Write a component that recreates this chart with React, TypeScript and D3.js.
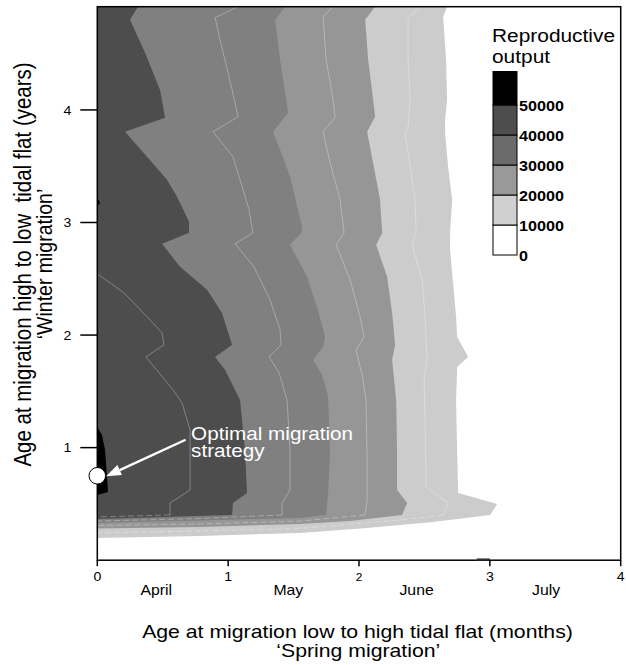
import React from 'react';
import * as d3 from 'd3';

type Pt = [number, number];

// ---------- axis content ----------
const X_TICKS = [0, 1, 2, 3, 4];
const Y_TICKS = [1, 2, 3, 4];
const MONTHS = ['April', 'May', 'June', 'July'];
const MONTH_POS = [0.45, 1.46, 2.44, 3.43];
const X_MAX = 4;
const Y_MAX = 4.917;

// ---------- legend ----------
const LEGEND_TICKS = [0, 10000, 20000, 30000, 40000, 50000];
const LEGEND_COLORS = ['#ffffff', '#d0d0d0', '#999999', '#6b6b6b', '#4d4d4d', '#000000'];

// ---------- filled contour regions (value >= level), boundary ----------
// x: months (spring migration), y: years (winter migration)
const FILL_LEVELS = [10000, 20000, 30000, 40000];
const FILL_COLORS = ['#cccccc', '#969696', '#808080', '#4d4d4d'];

const edge10k: Pt[] = [
  [2.673, 4.917], [2.643, 4.828], [2.666, 4.446], [2.673, 4.091], [2.658, 3.913], [2.658, 3.797],
  [2.681, 3.495], [2.712, 3.202], [2.696, 2.908], [2.696, 2.757], [2.719, 2.464], [2.742, 2.162],
  [2.75, 1.984], [2.834, 1.806], [2.75, 1.717], [2.742, 1.424], [2.75, 0.953], [2.758, 0.597],
  [3.056, 0.5], [3.002, 0.402],
  [2.566, 0.34], [2.062, 0.286], [1.55, 0.242], [0.785, 0.215], [0, 0.197],
];
const edge20k: Pt[] = [
  [2.123, 4.917], [2.047, 4.802], [2.07, 4.446], [2.108, 4.091], [2.123, 3.94], [2.062, 3.806],
  [2.1, 3.575], [2.161, 3.202], [2.177, 2.908], [2.131, 2.802], [2.215, 2.517], [2.253, 2.197],
  [2.276, 1.913], [2.253, 1.78], [2.284, 1.424], [2.291, 0.953], [2.291, 0.624], [2.368, 0.508],
  [2.329, 0.402],
  [1.932, 0.348], [1.55, 0.322], [0.785, 0.295], [0, 0.282],
];
const edge30k: Pt[] = [
  [1.435, 4.917], [1.359, 4.802], [1.397, 4.446], [1.458, 3.975], [1.343, 3.806], [1.412, 3.602],
  [1.473, 3.406], [1.565, 2.962], [1.565, 2.917], [1.473, 2.802], [1.603, 2.517], [1.679, 2.251],
  [1.741, 1.984], [1.725, 1.895], [1.649, 1.78], [1.718, 1.646], [1.764, 1.451], [1.779, 0.953],
  [1.764, 0.597], [1.749, 0.402],
  [1.55, 0.375], [0.785, 0.353], [0, 0.331],
];
const edge40k: Pt[] = [
  [0.311, 4.917], [0.25, 4.802], [0.365, 4.508], [0.479, 4.18], [0.518, 3.931], [0.212, 3.806],
  [0.38, 3.584], [0.533, 3.38], [0.609, 3.228], [0.701, 3.006], [0.701, 2.908], [0.495, 2.811],
  [0.632, 2.606], [0.839, 2.402], [0.953, 2.197], [1.03, 1.913], [0.9, 1.806], [0.976, 1.691],
  [1.091, 1.424], [1.129, 0.98], [1.144, 0.597], [1.037, 0.508], [1.03, 0.402],
  [0.518, 0.384], [0, 0.366],
];
const edge50k: Pt[] = [
  [0, 1.184], [0.036, 1.113], [0.059, 0.98], [0.074, 0.74], [0.082, 0.606], [0, 0.58],
];
const speck50k: Pt[] = [[0, 3.22], [0.022, 3.175], [0, 3.14]];
const speckAxis: Pt[] = [[2.9, 0.006], [3.0, 0.006]];

// ---------- intermediate contour lines ----------
const line15k: Pt[] = [
  [2.467, 4.917], [2.375, 4.82], [2.375, 4.446], [2.391, 4.091], [2.375, 3.85], [2.352, 3.797],
  [2.391, 3.495], [2.429, 3.202], [2.437, 2.908], [2.406, 2.802], [2.482, 2.491], [2.505, 2.162],
  [2.52, 1.78], [2.497, 1.602], [2.505, 1.246], [2.513, 0.651], [2.681, 0.508], [2.643, 0.402],
  [2.314, 0.357], [1.55, 0.282], [0.785, 0.26], [0, 0.242],
];
const line25k: Pt[] = [
  [1.802, 4.917], [1.725, 4.828], [1.749, 4.446], [1.802, 4.091], [1.817, 3.931], [1.725, 3.806],
  [1.779, 3.531], [1.856, 3.202], [1.886, 2.908], [1.825, 2.802], [1.932, 2.491], [2.008, 2.162],
  [2.039, 1.984], [1.978, 1.868], [2.024, 1.646], [2.054, 1.424], [2.062, 0.891], [2.062, 0.535],
  [2.047, 0.402],
  [1.55, 0.348], [0.785, 0.322], [0, 0.308],
];
const line35k: Pt[] = [
  [1.076, 4.917], [0.9, 4.82], [0.938, 4.624], [1.03, 4.18], [1.076, 3.94], [0.885, 3.806],
  [1.037, 3.584], [1.091, 3.38], [1.16, 3.113], [1.19, 2.908], [1.053, 2.811], [1.198, 2.606],
  [1.32, 2.313], [1.397, 2.046], [1.404, 1.913], [1.313, 1.806], [1.389, 1.664], [1.45, 1.424],
  [1.473, 0.98], [1.473, 0.624], [1.412, 0.508], [1.412, 0.402],
  [0.785, 0.37], [0, 0.348],
];
const line45k: Pt[] = [
  [0, 2.544], [0.204, 2.375], [0.38, 2.162], [0.495, 2.02], [0.51, 1.913], [0.372, 1.806],
  [0.472, 1.664], [0.579, 1.513], [0.648, 1.397], [0.709, 1.157], [0.709, 0.624], [0.556, 0.508],
  [0.556, 0.402],
  [0, 0.384],
];

// ---------- annotation ----------
const OPTIMUM: Pt = [0, 0.75];
const ARROW_TAIL: Pt = [0.675, 1.07];
const ARROW_TIP: Pt = [0.067, 0.745];
const NOTE_LINES = ['Optimal migration', 'strategy'];
const NOTE_POS: Pt = [0.717, 1.065];

const W = 626;
const H = 665;
const SX = 1.13;
const FONT = "'Liberation Sans', Arial, Helvetica, sans-serif";

const x = d3.scaleLinear().domain([0, X_MAX]).range([97.3, 620.7]);
const y = d3.scaleLinear().domain([0, Y_MAX]).range([560.2, 6.7]);
const legendY = d3.scaleLinear().domain([0, 50000]).range([255, 105]);

const line = d3.line<Pt>().x((d) => x(d[0])).y((d) => y(d[1]));

function T(props: {
  x: number; y: number; size: number; anchor?: string; rotate?: number; bold?: boolean;
  fill?: string; children: React.ReactNode;
}) {
  const { x: tx, y: ty, size, anchor = 'start', rotate, bold, fill = '#000', children } = props;
  return (
    <text
      transform={`translate(${tx},${ty}) scale(${SX},1)${rotate ? ` rotate(${rotate})` : ''}`}
      fontSize={size}
      textAnchor={anchor}
      fontWeight={bold ? 'bold' : 'normal'}
      fill={fill}
      fontFamily={FONT}
      style={{ whiteSpace: 'pre' }}
    >
      {children}
    </text>
  );
}

function splitAtCorner(pts: Pt[]): [Pt[], Pt[]] {
  const i = pts.findIndex((p) => p[1] <= 0.41);
  return [pts.slice(0, i + 1), pts.slice(i)];
}

export default function App() {
  const edges = [edge10k, edge20k, edge30k, edge40k];
  const lines = [line15k, line25k, line35k, line45k];

  // arrow geometry
  const t0 = [x(ARROW_TAIL[0]), y(ARROW_TAIL[1])];
  const t1 = [x(ARROW_TIP[0]), y(ARROW_TIP[1])];
  const len = Math.hypot(t1[0] - t0[0], t1[1] - t0[1]);
  const ux = (t1[0] - t0[0]) / len;
  const uy = (t1[1] - t0[1]) / len;
  const headL = 15;
  const headW = 5.5;
  const bx = t1[0] - ux * headL;
  const by = t1[1] - uy * headL;
  const px = -uy;
  const py = ux;

  const legendX0 = 493;
  const legendX1 = 517;

  return (
    <svg
      width={W}
      height={H}
      viewBox={`0 0 ${W} ${H}`}
      style={{ position: 'absolute', left: 0, top: 0, background: '#fff' }}
    >
      <defs>
        <clipPath id="plot">
          <rect x={x(0)} y={y(Y_MAX)} width={x(X_MAX) - x(0)} height={y(0) - y(Y_MAX)} />
        </clipPath>
      </defs>

      <g clipPath="url(#plot)">
        {edges.map((e, i) => (
          <path
            key={FILL_LEVELS[i]}
            d={line([[0, Y_MAX], ...e])! + 'Z'}
            fill={FILL_COLORS[i]}
          />
        ))}
        <path d={line(edge50k)! + 'Z'} fill="#000" />
        <path d={line(speck50k)! + 'Z'} fill="#000" />
        {lines.map((l, i) => {
          const [solid, dashed] = splitAtCorner(l);
          return (
            <g key={i} fill="none" stroke="rgba(255,255,255,0.38)" strokeWidth={0.8}>
              <path d={line(solid)!} />
              <path d={line(dashed)!} strokeDasharray="6 3" />
            </g>
          );
        })}
      </g>

      {/* frame */}
      <rect
        x={x(0)} y={y(Y_MAX)} width={x(X_MAX) - x(0)} height={y(0) - y(Y_MAX)}
        fill="none" stroke="#000" strokeWidth={1.5}
      />
      <path d={line(speckAxis)!} stroke="#333" strokeWidth={2.2} fill="none" />

      {/* y axis */}
      {Y_TICKS.map((t) => (
        <g key={t}>
          <line x1={x(0) - 17} x2={x(0)} y1={y(t)} y2={y(t)} stroke="#000" strokeWidth={1.5} />
          <T x={x(0) - 26} y={y(t) + 4.6} size={12.5} anchor="end">{String(t)}</T>
        </g>
      ))}
      {/* x axis */}
      {X_TICKS.map((t) => (
        <g key={t}>
          <line x1={x(t)} x2={x(t)} y1={y(0)} y2={y(0) + 6} stroke="#000" strokeWidth={1.5} />
          <T x={x(t)} y={580.7} size={t === 2 ? 10.5 : 12.5} anchor="middle">{String(t)}</T>
        </g>
      ))}
      {MONTHS.map((m, i) => (
        <T key={m} x={x(MONTH_POS[i])} y={595} size={14} anchor="middle">{m}</T>
      ))}

      {/* axis titles */}
      <T x={357.5} y={638.3} size={18.8} anchor="middle">Age at migration low to high tidal flat (months)</T>
      <T x={358.3} y={657} size={18.8} anchor="middle">{'\u2018Spring migration\u2019'}</T>
      <T x={30.5} y={264.5} size={20.5} anchor="middle" rotate={-90}>Age at migration high to low  tidal flat (years)</T>
      <T x={51.5} y={264} size={19.5} anchor="middle" rotate={-90}>{'\u2018Winter migration\u2019'}</T>

      {/* optimum marker and annotation */}
      <circle cx={x(OPTIMUM[0])} cy={y(OPTIMUM[1])} r={8.3} fill="#fff" stroke="#000" strokeWidth={1} />
      <line x1={t0[0]} y1={t0[1]} x2={bx} y2={by} stroke="#fff" strokeWidth={2.4} />
      <polygon
        points={`${t1[0]},${t1[1]} ${bx + px * headW},${by + py * headW} ${bx - px * headW},${by - py * headW}`}
        fill="#fff"
      />
      {NOTE_LINES.map((s, i) => (
        <T key={s} x={x(NOTE_POS[0])} y={y(NOTE_POS[1]) + i * 17} size={18.3} fill="#fff">{s}</T>
      ))}

      {/* legend */}
      <T x={492} y={42} size={18.5}>Reproductive</T>
      <T x={492} y={62.5} size={18.5}>output</T>
      {LEGEND_TICKS.map((v, i) => {
        const top = i < LEGEND_TICKS.length - 1 ? legendY(LEGEND_TICKS[i + 1]) : legendY(v) - 33.5;
        return (
          <rect
            key={v}
            x={legendX0}
            y={top}
            width={legendX1 - legendX0}
            height={legendY(v) - top}
            fill={LEGEND_COLORS[i]}
            stroke="#000"
            strokeWidth={1}
          />
        );
      })}
      {LEGEND_TICKS.map((v) => (
        <T key={v} x={legendX1 + 2} y={legendY(v) + 5.5} size={14.3} bold>{String(v)}</T>
      ))}
    </svg>
  );
}
